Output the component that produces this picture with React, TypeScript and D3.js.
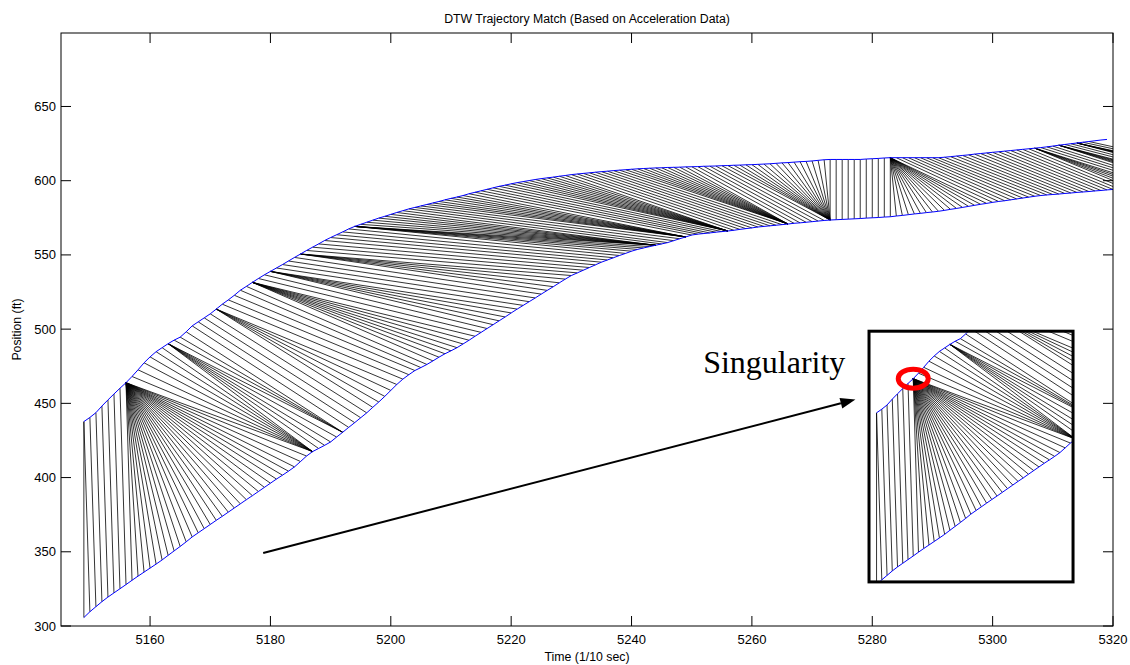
import React from 'react';
import * as d3 from 'd3';

const W = 1130;
const H = 665;
const PLOT = { left: 61, right: 1113, top: 33, bottom: 626 };

const timeStart = 5149; // first sample, 1/10 sec
const xDomain: [number, number] = [5145.2, 5320];
const yDomain: [number, number] = [300, 699.5];
const xTickValues = [5160, 5180, 5200, 5220, 5240, 5260, 5280, 5300, 5320];
const yTickValues = [300, 350, 400, 450, 500, 550, 600, 650];

// upper trajectory (ft), one value per 1/10 sec
const upperPosition = [
  437.7, 440.5, 443.7, 448.2, 452.3, 456.3, 460.2, 463.9, 468.1, 472.6,
  477.3, 481.3, 484.8, 487.5, 490.2, 492.6, 494.6, 498.2, 502.2, 504.9,
  507.6, 510.3, 513.5, 516.8, 519.7, 522.8, 526.2, 528.8, 531.5, 534.1,
  536.6, 538.9, 541.2, 543.5, 545.9, 548.3, 550.6, 553.0, 555.2, 557.4,
  559.7, 561.7, 563.6, 565.5, 567.5, 569.2, 570.6, 572.0, 573.4, 574.8,
  576.0, 577.3, 578.6, 579.8, 581.0, 582.0, 583.0, 584.0, 585.0, 586.0,
  587.1, 588.1, 589.0, 590.0, 591.2, 592.2, 593.2, 594.2, 595.2, 596.2,
  597.0, 597.9, 598.7, 599.4, 600.1, 600.8, 601.4, 601.9, 602.4, 603.0,
  603.5, 604.1, 604.5, 604.9, 605.3, 605.7, 606.1, 606.4, 606.8, 607.1,
  607.4, 607.7, 608.0, 608.2, 608.4, 608.6, 608.7, 608.9, 609.0, 609.1,
  609.3, 609.4, 609.5, 609.7, 609.8, 609.9, 610.1, 610.2, 610.4, 610.5,
  610.7, 610.8, 611.0, 611.2, 611.4, 611.7, 612.0, 612.2, 612.5, 612.8,
  613.0, 613.3, 613.7, 614.1, 614.3, 614.3, 614.3, 614.3, 614.3, 614.3,
  614.6, 614.8, 615.0, 615.3, 615.5, 615.5, 615.5, 615.5, 615.5, 615.5,
  615.5, 615.5, 615.5, 615.8, 616.2, 616.6, 617.0, 617.4, 617.9, 618.3,
  618.7, 619.1, 619.5, 619.9, 620.3, 620.7, 621.1, 621.5, 621.9, 622.3,
  622.8, 623.3, 623.9, 624.4, 624.9, 625.4, 625.9, 626.4, 626.9, 627.4,
  627.8,
];

// lower trajectory (ft), one value per 1/10 sec
const lowerPosition = [
  305.7, 309.6, 313.0, 316.4, 319.5, 322.3, 325.1, 327.9, 330.8, 333.6,
  336.3, 339.0, 341.7, 344.5, 347.6, 350.6, 353.6, 356.7, 360.0, 362.8,
  365.6, 368.4, 371.2, 373.9, 376.7, 379.5, 382.3, 385.1, 387.8, 390.6,
  393.4, 396.2, 399.0, 401.6, 404.3, 407.2, 410.8, 414.5, 417.5, 419.6,
  421.7, 424.0, 427.3, 430.5, 433.8, 437.0, 440.3, 443.6, 447.3, 450.9,
  454.7, 458.7, 462.7, 466.3, 469.3, 472.1, 474.1, 476.2, 478.6, 481.1,
  483.4, 485.4, 487.5, 490.0, 492.5, 495.2, 497.8, 500.4, 503.0, 505.6,
  508.2, 510.9, 513.5, 516.0, 518.5, 521.0, 523.6, 526.1, 528.6, 531.2,
  533.7, 536.1, 537.9, 539.7, 541.5, 543.3, 545.1, 546.6, 548.1, 549.6,
  551.0, 552.5, 553.7, 554.7, 555.6, 556.5, 557.4, 558.3, 559.6, 560.9,
  562.1, 563.4, 564.0, 564.4, 564.8, 565.3, 565.7, 566.1, 566.6, 567.2,
  567.7, 568.2, 568.8, 569.2, 569.6, 570.0, 570.4, 570.8, 571.3, 571.6,
  572.0, 572.4, 572.8, 573.2, 573.5, 573.7, 573.9, 574.1, 574.3, 574.5,
  574.8, 575.0, 575.2, 575.5, 575.7, 576.2, 576.6, 577.1, 577.6, 578.0,
  578.5, 578.9, 579.4, 580.0, 580.7, 581.3, 582.0, 582.7, 583.4, 584.1,
  584.7, 585.4, 586.0, 586.5, 587.1, 587.7, 588.3, 588.9, 589.5, 590.0,
  590.4, 590.7, 591.0, 591.4, 591.7, 592.1, 592.4, 592.7, 593.1, 593.4,
  593.8, 594.1, 594.4, 594.8, 595.1, 595.4, 595.8, 596.1, 596.4, 596.8,
  597.1, 597.4, 597.7, 598.0, 598.3, 598.6, 598.9, 599.2, 599.5, 599.8,
  600.1, 600.4, 600.7, 601.0, 601.3, 601.6,
];

// DTW warping path, run-length coded: D = both advance, H = lower advances, V = upper advances
const warpRuns: [string, number][] = [
  ['H', 1], ['D', 7], ['H', 30], ['V', 7], ['H', 5], ['V', 3], ['D', 5], ['H', 4], ['D', 6],
  ['H', 7], ['D', 3], ['H', 4], ['D', 5], ['H', 4], ['D', 9], ['H', 5], ['V', 7],
  ['D', 5], ['V', 7], ['D', 7], ['V', 9], ['D', 10], ['V', 10], ['D', 7], ['V', 17],
  ['D', 10], ['H', 16], ['D', 24], ['H', 4], ['D', 4], ['H', 4], ['D', 3], ['H', 4], ['D', 2],
];

// annotation anchors (data coordinates)
const arrowFrom = { t: 5178.8, v: 349.2 };
const arrowTo = { t: 5277.2, v: 452.6 };
const labelAt = { t: 5251.9, v: 470.5 };
const insetBox = { t0: 5279.46, t1: 5313.36, v0: 329.7, v1: 498.6 };
const insetXDomain: [number, number] = [5147.56, 5186.5];
const insetYDomain: [number, number] = [308.0, 500.3];
const singularityIndex = 7;

function warpPairs(): [number, number][] {
  const pairs: [number, number][] = [[0, 0]];
  let u = 0;
  let l = 0;
  for (const [m, n] of warpRuns) {
    for (let i = 0; i < n; i++) {
      if (m === 'D') { u++; l++; } else if (m === 'H') { l++; } else { u++; }
      pairs.push([u, l]);
    }
  }
  return pairs;
}

function Traces({ x, y }: { x: d3.ScaleLinear<number, number>; y: d3.ScaleLinear<number, number> }) {
  const pairs = warpPairs();
  const t = (k: number) => timeStart + k;
  const segs = pairs
    .filter(([u, l]) => u < upperPosition.length && l < lowerPosition.length)
    .map(([u, l]) => `M${x(t(u)).toFixed(2)},${y(upperPosition[u]).toFixed(2)}L${x(t(l)).toFixed(2)},${y(lowerPosition[l]).toFixed(2)}`)
    .join('');
  const line = d3.line<number>().x((_, i) => x(t(i))).y((d) => y(d));
  return (
    <g>
      <path d={segs} stroke="#000" strokeWidth={0.8} fill="none" />
      <path d={line(upperPosition) || ''} stroke="#0000ff" strokeWidth={1} fill="none" />
      <path d={line(lowerPosition) || ''} stroke="#0000ff" strokeWidth={1} fill="none" />
    </g>
  );
}

export default function App() {
  const x = d3.scaleLinear().domain(xDomain).range([PLOT.left, PLOT.right]);
  const y = d3.scaleLinear().domain(yDomain).range([PLOT.bottom, PLOT.top]);
  const font = '"Liberation Sans", Arial, sans-serif';

  const bx0 = x(insetBox.t0), bx1 = x(insetBox.t1);
  const by0 = y(insetBox.v1), by1 = y(insetBox.v0);
  const xi = d3.scaleLinear().domain(insetXDomain).range([bx0, bx1]);
  const yi = d3.scaleLinear().domain(insetYDomain).range([by1, by0]);

  const ax0 = x(arrowFrom.t), ay0 = y(arrowFrom.v);
  const ax1 = x(arrowTo.t), ay1 = y(arrowTo.v);
  const ang = Math.atan2(ay1 - ay0, ax1 - ax0);
  const headLen = 15, headW = 5.5;
  const bxh = ax1 - headLen * Math.cos(ang), byh = ay1 - headLen * Math.sin(ang);
  const head = [
    [ax1, ay1],
    [bxh + headW * Math.sin(ang), byh - headW * Math.cos(ang)],
    [bxh - headW * Math.sin(ang), byh + headW * Math.cos(ang)],
  ].map((p) => p.join(',')).join(' ');

  const ex = xi(timeStart + singularityIndex);
  const ey = yi(upperPosition[singularityIndex]);

  return (
    <svg width={W} height={H} style={{ position: 'absolute', left: 0, top: 0, background: '#fff' }}>
      <defs>
        <clipPath id="plotClip">
          <rect x={PLOT.left} y={PLOT.top} width={PLOT.right - PLOT.left} height={PLOT.bottom - PLOT.top} />
        </clipPath>
        <clipPath id="insetClip">
          <rect x={bx0} y={by0} width={bx1 - bx0} height={by1 - by0} />
        </clipPath>
      </defs>
      <rect x={0} y={0} width={W} height={H} fill="#fff" />
      <g clipPath="url(#plotClip)">
        <Traces x={x} y={y} />
      </g>
      {/* axes box */}
      <rect x={PLOT.left} y={PLOT.top} width={PLOT.right - PLOT.left} height={PLOT.bottom - PLOT.top} fill="none" stroke="#000" strokeWidth={1} />
      {xTickValues.map((v) => (
        <g key={'x' + v}>
          <line x1={x(v)} x2={x(v)} y1={PLOT.bottom} y2={PLOT.bottom - 10} stroke="#000" strokeWidth={1} />
          <line x1={x(v)} x2={x(v)} y1={PLOT.top} y2={PLOT.top + 10} stroke="#000" strokeWidth={1} />
          <text x={x(v)} y={PLOT.bottom + 18} textAnchor="middle" fontFamily={font} fontSize={13}>{v}</text>
        </g>
      ))}
      {yTickValues.map((v) => (
        <g key={'y' + v}>
          <line x1={PLOT.left} x2={PLOT.left + 10} y1={y(v)} y2={y(v)} stroke="#000" strokeWidth={1} />
          <line x1={PLOT.right} x2={PLOT.right - 10} y1={y(v)} y2={y(v)} stroke="#000" strokeWidth={1} />
          <text x={PLOT.left - 5} y={y(v) + 4.5} textAnchor="end" fontFamily={font} fontSize={13}>{v}</text>
        </g>
      ))}
      <text x={(PLOT.left + PLOT.right) / 2} y={23} textAnchor="middle" fontFamily={font} fontSize={12.3}>DTW Trajectory Match (Based on Acceleration Data)</text>
      <text x={(PLOT.left + PLOT.right) / 2} y={661} textAnchor="middle" fontFamily={font} fontSize={12.3}>Time (1/10 sec)</text>
      <text transform={`translate(21,${(PLOT.top + PLOT.bottom) / 2}) rotate(-90)`} textAnchor="middle" fontFamily={font} fontSize={12.3}>Position (ft)</text>

      {/* annotation */}
      <line x1={ax0} y1={ay0} x2={bxh} y2={byh} stroke="#000" strokeWidth={2} />
      <polygon points={head} fill="#000" />
      <text x={x(labelAt.t)} y={y(labelAt.v)} fontFamily='"Liberation Serif", "Times New Roman", serif' fontSize={32}>Singularity</text>

      <rect x={bx0} y={by0} width={bx1 - bx0} height={by1 - by0} fill="#fff" />
      <g clipPath="url(#insetClip)">
        <Traces x={xi} y={yi} />
      </g>
      <ellipse cx={ex} cy={ey} rx={15} ry={9.5} fill="none" stroke="#ff0000" strokeWidth={5} />
      <rect x={bx0} y={by0} width={bx1 - bx0} height={by1 - by0} fill="none" stroke="#000" strokeWidth={3} />
    </svg>
  );
}
